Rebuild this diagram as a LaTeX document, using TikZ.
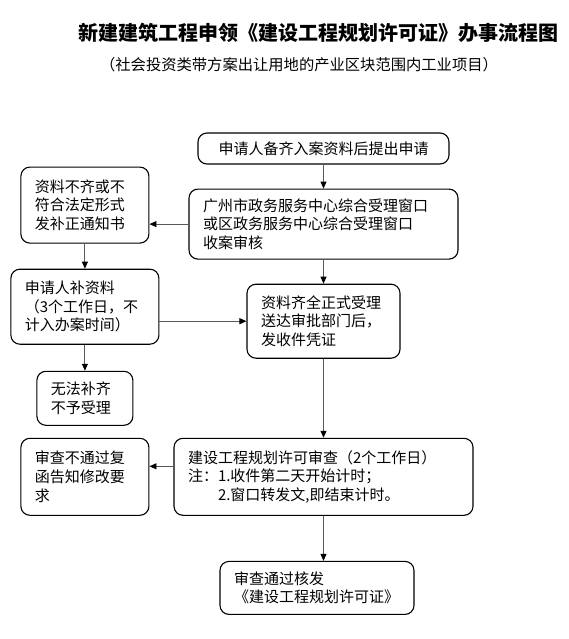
\documentclass[tikz,border=0pt]{standalone}
\usepackage{fontspec}
\setmainfont{Noto Sans CJK SC}
\usetikzlibrary{positioning, arrows.meta, calc}

\begin{document}
\begin{tikzpicture}[
  x=1pt, y=-1pt,
  node distance=24pt and 24pt,
  flowbox/.style={
    rectangle, rounded corners=9pt, draw=black, line width=1.1pt,
    inner xsep=14pt, inner ysep=4pt, align=left, fill=white,
    font=\fontsize{15}{18.7}\selectfont
  },
  link/.style={draw=black!65, line width=0.9pt},
  >={Triangle[length=7pt, width=6pt, color=black]}
]
\useasboundingbox (0,0) rectangle (568,639);
\node[font=\fontsize{20}{24}\selectfont\bfseries] (title) at (318,33) {新建建筑工程申领《建设工程规划许可证》办事流程图};
\node[font=\fontsize{15.3}{18}\selectfont] (subtitle) at (299,65) {（社会投资类带方案出让用地的产业区块范围内工业项目）};
\node[flowbox, align=center, text width=223pt, minimum height=31pt] (apply) at (323.5,148.5) {申请人备齐入案资料后提出申请};
\node[flowbox, text width=241pt, minimum height=70pt, below=24pt of apply] (window) {广州市政务服务中心综合受理窗口\\或区政务服务中心综合受理窗口\\收案审核};
\node[flowbox, text width=100pt, minimum height=76pt, left=39pt of window, yshift=19pt] (notice) {资料不齐或不\\符合法定形式\\发补正通知书};
\node[flowbox, text width=120pt, minimum height=75pt, below=25pt of notice] (supply) {申请人补资料\\（3个工作日，不\\计入办案时间）};
\node[flowbox, text width=68pt, minimum height=54pt, below=26pt of supply] (reject) {无法补齐\\不予受理};
\node[flowbox, text width=125pt, minimum height=74pt, below=24pt of window] (accept) {资料齐全正式受理\\送达审批部门后，\\发收件凭证};
\node[flowbox, text width=271pt, minimum height=77pt, below=79pt of accept] (review) {建设工程规划许可审查（2个工作日）\\注：1.收件第二天开始计时；\\\phantom{注：}2.窗口转发文,即结束计时。};
\node[flowbox, text width=100pt, minimum height=77pt, left=24pt of review] (refuse) {审查不通过复\\函告知修改要\\求};
\node[flowbox, text width=166pt, minimum height=53pt, below=45pt of review, xshift=-6.5pt] (issue) {审查通过核发\\《建设工程规划许可证》};
% connectors
\draw[link, ->] (apply) -- (window);
\draw[link, ->] (window.west) -- (window.west -| notice.east);
\draw[link, ->] (notice.south -| supply.north) -- (supply.north);
\draw[link, ->] (accept.west -| supply.east) -- (accept.west);
\draw[link, ->] (supply) -- (reject);
\draw[link, ->] (window) -- (accept);
\draw[link, ->] (accept) -- (review);
\coordinate (reviewout) at ($(review.west)+(0,-10.5)$);
\draw[link, ->] (reviewout) -- (reviewout -| refuse.east);
\draw[link, ->] (review.south) -- (review.south |- issue.north);
\end{tikzpicture}
\end{document}
